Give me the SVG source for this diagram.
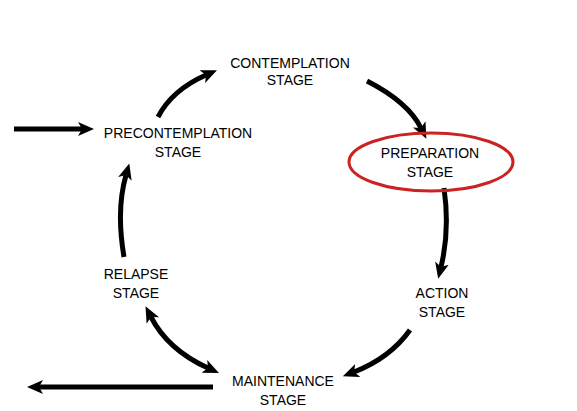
<svg xmlns="http://www.w3.org/2000/svg" width="577" height="411" viewBox="0 0 577 411">
<style>
  text { font-family: "Liberation Sans", Arial, sans-serif; font-size: 14px; fill: #000; text-anchor: middle; }
  .arr { fill: none; stroke: #000; stroke-width: 5; }
</style>
<defs>
  <marker id="ah" markerUnits="userSpaceOnUse" markerWidth="18" markerHeight="16" refX="4" refY="7" orient="auto-start-reverse" viewBox="0 0 18 14">
    <path d="M0,0 L16,7 L0,14 L4,7 z" fill="#000"/>
  </marker>
</defs>
<rect width="577" height="411" fill="#fff"/>
<g id="connectors">
  <path class="arr" d="M14,129 L82,129" marker-end="url(#ah)"/>
  <path class="arr" d="M158,117 Q172,90 206,75" marker-end="url(#ah)"/>
  <path class="arr" d="M367,81 Q408,102 421,128" marker-end="url(#ah)"/>
  <path class="arr" d="M444,188 Q450,230 441,267" marker-end="url(#ah)"/>
  <path class="arr" d="M410,330 Q390,358 354,372" marker-end="url(#ah)"/>
  <path class="arr" d="M151,317 Q168,350 208,368" marker-start="url(#ah)" marker-end="url(#ah)"/>
  <path class="arr" d="M124,257 Q116,210 126,175" marker-end="url(#ah)"/>
  <path class="arr" d="M213,387 L39,387" marker-end="url(#ah)"/>
</g>
<g id="contemplation">
  <text x="290" y="68">CONTEMPLATION</text>
  <text x="290" y="85">STAGE</text>
</g>
<g id="precontemplation">
  <text x="178" y="138">PRECONTEMPLATION</text>
  <text x="178" y="157">STAGE</text>
</g>
<g id="preparation">
  <ellipse cx="431" cy="162" rx="82" ry="29" fill="none" stroke="#cc2222" stroke-width="3"/>
  <text x="430" y="158">PREPARATION</text>
  <text x="430" y="177">STAGE</text>
</g>
<g id="action">
  <text x="442" y="298">ACTION</text>
  <text x="442" y="317">STAGE</text>
</g>
<g id="maintenance">
  <text x="283" y="386">MAINTENANCE</text>
  <text x="283" y="405">STAGE</text>
</g>
<g id="relapse">
  <text x="136" y="279">RELAPSE</text>
  <text x="136" y="298">STAGE</text>
</g>
</svg>
